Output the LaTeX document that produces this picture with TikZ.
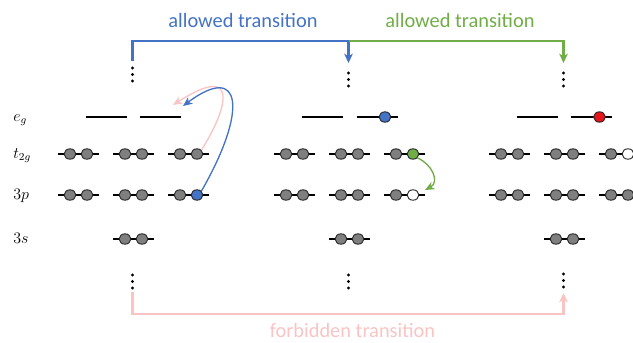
\documentclass[tikz,border=0pt]{standalone}
\usepackage{fontspec}
\newfontfamily\lblfont{Carlito}
\usetikzlibrary{arrows.meta,shapes.geometric}
\definecolor{tblue}{HTML}{4472C4}
\definecolor{tgreen}{HTML}{70AD47}
\definecolor{tpink}{HTML}{F9C4C4}
\definecolor{tred}{HTML}{E8141B}
\definecolor{egray}{HTML}{7F7F7F}
\definecolor{eline}{HTML}{262626}
\tikzset{
  orbline/.style={line width=1pt, draw=black},
  el/.style={ellipse, draw=eline, line width=0.7pt, minimum width=8.8pt, minimum height=7.8pt, inner sep=0pt},
  bracket/.style={line width=1.6pt, -{Stealth[length=7pt,width=6.5pt,inset=2pt]}},
  curvearr/.style={line width=1pt, -{Stealth[length=7pt,width=6pt,inset=2pt]}},
  lbl/.style={font=\lblfont\fontsize{15.3}{18}\selectfont, inner sep=0pt},
  lev/.style={font=\fontsize{11.5}{13}\selectfont, inner sep=0pt, anchor=base west},
  vdot/.style={circle, fill=black, inner sep=0pt, minimum size=2.4pt}
}
\newcommand\orbital[5]{%
  \draw[orbline] (#2-20.5,#3) -- (#2+20.5,#3);
  \node[el, fill=#4] (#1a) at (#2-8.5,#3) {};
  \node[el, fill=#5] (#1b) at (#2+8.5,#3) {};}
\newcommand\emptylevel[2]{\draw[orbline] (#1-20.5,#2) -- (#1+20.5,#2);}
\newcommand\mydots[2]{%
  \node[vdot] at (#1,#2-6.5) {};
  \node[vdot] at (#1,#2) {};
  \node[vdot] at (#1,#2+6.5) {};}
\begin{document}
\begin{tikzpicture}[x=0.75pt,y=-0.75pt]
\useasboundingbox (0,0) rectangle (633,343);
\clip (0,0) rectangle (633,343);
% level labels
\node[lev] (leg) at (13,121) {$e_g$};
\node[lev] (lt2g) at (13,158) {$t_{2g}$};
\node[lev] (l3p) at (13,199) {$3p$};
\node[lev] (l3s) at (13,243) {$3s$};
% column 1
\mydots{132.5}{74.5}
\mydots{132.5}{281.5}
\emptylevel{106.5}{117}
\emptylevel{160.5}{117}
\orbital{Ta}{78.5}{154}{egray}{egray}
\orbital{Tb}{133.5}{154}{egray}{egray}
\orbital{Tc}{188.5}{154}{egray}{egray}
\orbital{Pa}{78.5}{195}{egray}{egray}
\orbital{Pb}{133.5}{195}{egray}{egray}
\orbital{Pc}{188.5}{195}{egray}{tblue}
\orbital{Sa}{133.5}{239}{egray}{egray}
% column 2
\mydots{348.5}{79.5}
\mydots{348.5}{281.5}
\emptylevel{322.5}{117}
\draw[orbline] (356.5,117) -- (397.5,117);
\node[el, fill=tblue] (Eb) at (385,117) {};
\orbital{Ua}{294.5}{154}{egray}{egray}
\orbital{Ub}{349.5}{154}{egray}{egray}
\orbital{Uc}{404.5}{154}{egray}{tgreen}
\orbital{Qa}{294.5}{195}{egray}{egray}
\orbital{Qb}{349.5}{195}{egray}{egray}
\orbital{Qc}{404.5}{195}{egray}{white}
\orbital{Ra}{349.5}{239}{egray}{egray}
% column 3
\mydots{563.5}{79.5}
\mydots{563.5}{280.5}
\emptylevel{537.5}{117}
\draw[orbline] (571,117) -- (612,117);
\node[el, fill=tred] (Fb) at (599.5,117) {};
\orbital{Va}{509.5}{154}{egray}{egray}
\orbital{Vb}{564.5}{154}{egray}{egray}
\orbital{Vc}{619.5}{154}{egray}{white}
\orbital{Wa}{509.5}{195}{egray}{egray}
\orbital{Wb}{564.5}{195}{egray}{egray}
\orbital{Wc}{619.5}{195}{egray}{egray}
\orbital{Xa}{564.5}{239}{egray}{egray}
% bracket connectors
\coordinate (topA) at (132.5,61);
\coordinate (jB) at (348.5,41);
\coordinate (topB) at (348.5,63);
\coordinate (topC) at (563.5,63);
\coordinate (botA) at (132.5,292);
\coordinate (botC) at (563.5,293);
\draw[bracket, draw=tblue, -] (topA) |- (jB);
\draw[bracket, draw=tblue] (jB) -- (topB);
\draw[bracket, draw=tgreen] (jB) -| (topC);
\draw[bracket, draw=tpink] (botA) -- ++(0,22) -| (botC);
% labels
\node[lbl, text=tblue, anchor=base] (tA) at (243,27) {allowed transition};
\node[lbl, text=tgreen, anchor=base] (tB) at (460,27) {allowed transition};
\node[lbl, text=tpink, anchor=base] (tC) at (352.5,337) {forbidden transition};
% curved transitions
\coordinate (egEndA) at (173,105);
\coordinate (egEndB) at (183,106);
\draw[curvearr, draw=tpink] (Tcb.north east) .. controls (228,108) and (240,62) .. (egEndA);
\draw[curvearr, draw=tblue] (Pcb.north east) .. controls (248,110) and (242,62) .. (egEndB);
\coordinate (holeEnd) at (425,190);
\draw[curvearr, draw=tgreen] (Ucb.south east) .. controls (432,164) and (440,182) .. (holeEnd);
\end{tikzpicture}
\end{document}
